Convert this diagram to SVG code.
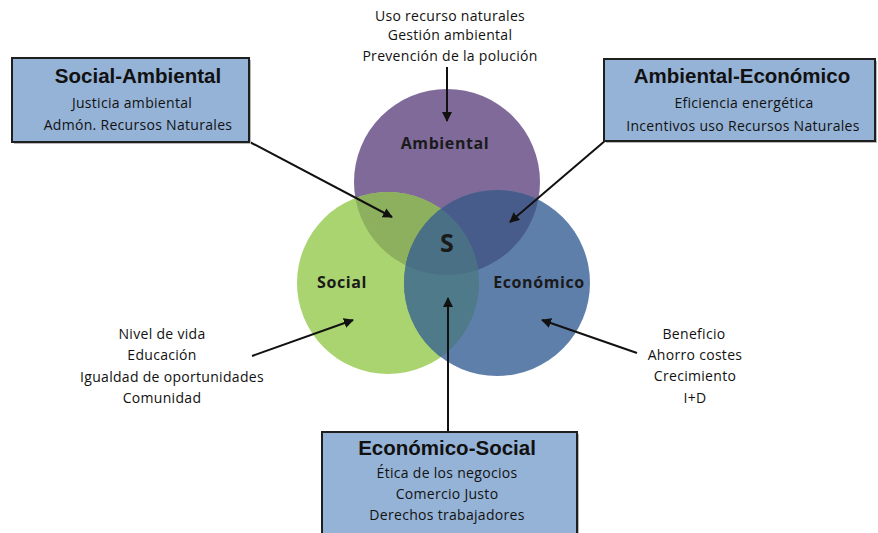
<svg xmlns="http://www.w3.org/2000/svg" width="878" height="533" viewBox="0 0 878 533">
  <defs>
    <style>
      .box { fill: #95b3d7; stroke: #1f1f1f; stroke-width: 2; }
      .shadow { fill: #b8b8b8; }
      .title { font-family: "Liberation Sans", Arial, sans-serif; font-weight: bold; font-size: 20.5px; fill: #111; text-anchor: middle; }
      .item { font-family: "Open Sans", "Liberation Sans", Arial, sans-serif; font-size: 14px; letter-spacing: 0.3px; fill: #111; text-anchor: middle; }
      .clabel { font-family: "Open Sans", "Liberation Sans", Arial, sans-serif; font-weight: bold; font-size: 16px; letter-spacing: 0.6px; fill: #1a1a1a; text-anchor: middle; }
      .center { font-size: 25px; letter-spacing: 0; }
      .conn { stroke: #111; stroke-width: 2; fill: none; marker-end: url(#arrow); }
    </style>
    <marker id="arrow" viewBox="0 0 10 10" refX="9" refY="5" markerWidth="5" markerHeight="5" orient="auto" markerUnits="strokeWidth">
      <path d="M0,0 L10,5 L0,10 z" fill="#111"/>
    </marker>
    <clipPath id="clipAmb"><circle cx="447" cy="182" r="93"/></clipPath>
    <clipPath id="clipSoc"><circle cx="388" cy="283" r="91"/></clipPath>
  </defs>

  <rect width="878" height="533" fill="#ffffff"/>

  <!-- Venn circles -->
  <g id="venn">
    <circle id="ambiental" cx="447" cy="182" r="93" fill="#7f6a9a"/>
    <circle id="social" cx="388" cy="283" r="91" fill="#a9d46f"/>
    <circle id="economico" cx="497" cy="283" r="93" fill="#5f7fab"/>
    <!-- pairwise overlaps -->
    <g clip-path="url(#clipAmb)">
      <circle cx="388" cy="283" r="91" fill="#8cb05d"/>
      <circle cx="497" cy="283" r="93" fill="#485c8b"/>
    </g>
    <g clip-path="url(#clipSoc)">
      <circle cx="497" cy="283" r="93" fill="#4e7a89"/>
    </g>
    <!-- triple overlap -->
    <g clip-path="url(#clipAmb)">
      <g clip-path="url(#clipSoc)">
        <circle cx="497" cy="283" r="93" fill="#4a7085"/>
      </g>
    </g>
    <text class="clabel" x="445" y="149">Ambiental</text>
    <text class="clabel" x="342" y="288">Social</text>
    <text class="clabel" x="539" y="288">Económico</text>
    <text class="clabel center" x="447" y="252">S</text>
  </g>

  <!-- Connectors -->
  <g id="connectors">
    <line class="conn" x1="246" y1="140" x2="392" y2="217"/>
    <line class="conn" x1="606" y1="140" x2="510" y2="222"/>
    <line class="conn" x1="447" y1="67" x2="447" y2="121"/>
    <line class="conn" x1="252" y1="356" x2="353" y2="320"/>
    <line class="conn" x1="637" y1="353" x2="542" y2="320"/>
    <line class="conn" x1="448" y1="432" x2="448" y2="298"/>
  </g>

  <!-- Social-Ambiental -->
  <g id="social-ambiental">
    <rect class="shadow" x="14" y="60" width="237" height="84"/>
    <rect class="box" x="12" y="58" width="237" height="84"/>
    <text class="title" x="138" y="83">Social-Ambiental</text>
    <text class="item" x="132" y="108">Justicia ambiental</text>
    <text class="item" x="138" y="130">Admón. Recursos Naturales</text>
  </g>

  <!-- Ambiental-Económico -->
  <g id="ambiental-economico">
    <rect class="shadow" x="606" y="61" width="271" height="82"/>
    <rect class="box" x="604" y="59" width="271" height="82"/>
    <text class="title" x="742" y="83">Ambiental-Económico</text>
    <text class="item" x="744" y="108">Eficiencia  energética</text>
    <text class="item" x="743" y="131">Incentivos  uso Recursos Naturales</text>
  </g>

  <!-- Económico-Social -->
  <g id="economico-social">
    <rect class="shadow" x="324" y="434" width="255" height="110"/>
    <rect class="box" x="322" y="432" width="255" height="110"/>
    <text class="title" x="447" y="455">Económico-Social</text>
    <text class="item" x="447" y="478">Ética de los negocios</text>
    <text class="item" x="447" y="499">Comercio Justo</text>
    <text class="item" x="447" y="520">Derechos trabajadores</text>
  </g>

  <!-- Ambiental items -->
  <g id="ambiental-items">
    <text class="item" x="450" y="21">Uso recurso naturales</text>
    <text class="item" x="450" y="40">Gestión ambiental</text>
    <text class="item" x="450" y="61">Prevención  de la polución</text>
  </g>

  <!-- Social items -->
  <g id="social-items">
    <text class="item" x="162" y="339">Nivel de vida</text>
    <text class="item" x="162" y="360">Educación</text>
    <text class="item" x="172" y="382">Igualdad  de oportunidades</text>
    <text class="item" x="162" y="403">Comunidad</text>
  </g>

  <!-- Económico items -->
  <g id="economico-items">
    <text class="item" x="694" y="339">Beneficio</text>
    <text class="item" x="695" y="360">Ahorro costes</text>
    <text class="item" x="695" y="381">Crecimiento</text>
    <text class="item" x="695" y="403">I+D</text>
  </g>
</svg>
